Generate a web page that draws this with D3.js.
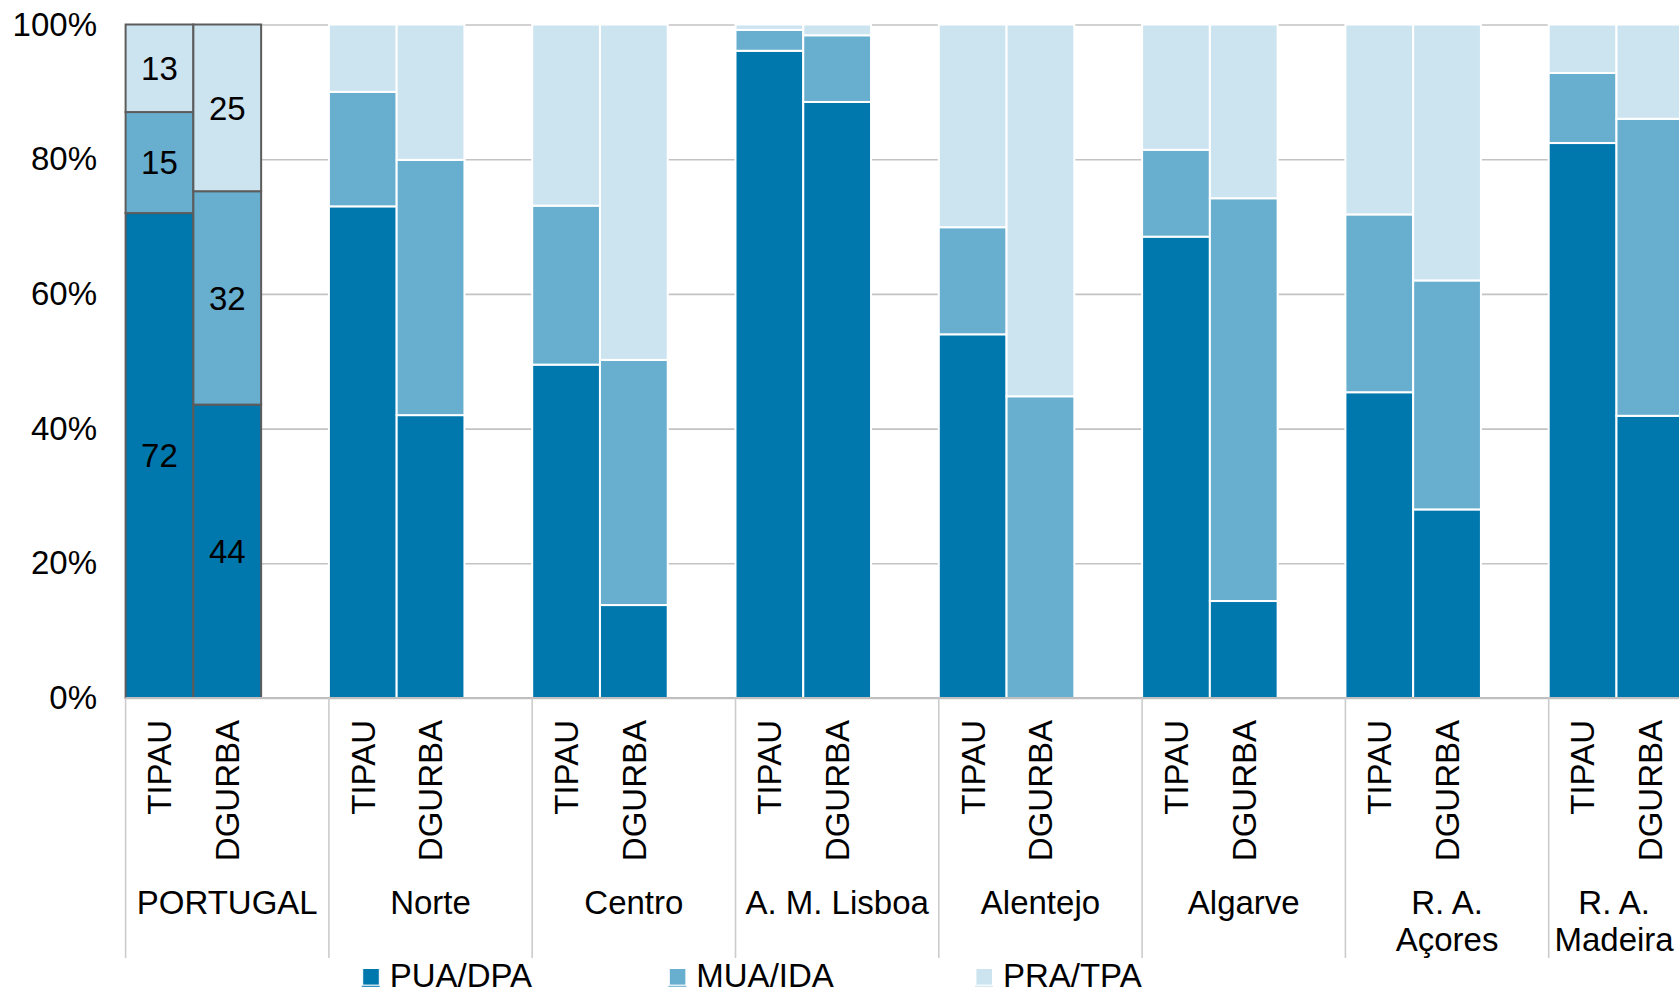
<!DOCTYPE html>
<html>
<head>
<meta charset="utf-8">
<script src="https://cdn.jsdelivr.net/npm/d3@7"></script>
<style>
  html, body { margin: 0; padding: 0; background: #ffffff; overflow: hidden; }
  svg { display: block; font-family: "Liberation Sans", Arial, sans-serif; }
</style>
</head>
<body>
<svg id="chart" width="1679" height="994"></svg>
<script>
// Regions (NUTS II) and the two urban classifications compared in each
const regions = ["PORTUGAL", "Norte", "Centro", "A. M. Lisboa", "Alentejo", "Algarve", "R. A. Açores", "R. A. Madeira"];
const classifications = ["TIPAU", "DGURBA"];
const seriesNames = ["PUA/DPA", "MUA/IDA", "PRA/TPA"];

// Share of population (%) by class — TIPAU
const tipauPUA = [72, 73, 49.5, 96.1, 54.0, 68.5, 45.4, 82.4];
const tipauMUA = [15, 17, 23.6, 3.1, 15.9, 12.9, 26.4, 10.4];
const tipauPRA = [13, 10, 26.9, 0.8, 30.1, 18.6, 28.2, 7.2];

// Share of population (%) by class — DGURBA
const dgurbaPUA = [44, 42, 13.8, 88.5, 0, 14.4, 28.0, 41.9];
const dgurbaMUA = [32, 37.9, 36.4, 9.9, 44.8, 59.8, 34.0, 44.1];
const dgurbaPRA = [25, 20.1, 49.8, 1.6, 55.2, 25.8, 38.0, 14.0];

// Axis ticks (percent)
const yTicks = [0, 20, 40, 60, 80, 100];

// Regions whose bars carry value labels and a dark outline
const labelledRegions = ["PORTUGAL"];

const colors = ["#0077ad", "#67aecf", "#cce4f0"];
const fontSize = 33;

const W = 1679, H = 994;
const margin = { left: 125.6, top: 24.5, bottom: 698 };
const groupWidth = 203.3;

const svg = d3.select("#chart");

// Build one row per bar
const rows = [];
regions.forEach((r, i) => {
  rows.push({ region: r, cls: "TIPAU", "PUA/DPA": tipauPUA[i], "MUA/IDA": tipauMUA[i], "PRA/TPA": tipauPRA[i] });
  rows.push({ region: r, cls: "DGURBA", "PUA/DPA": dgurbaPUA[i], "MUA/IDA": dgurbaMUA[i], "PRA/TPA": dgurbaPRA[i] });
});

// 100% stacking
const stacked = d3.stack().keys(seriesNames).offset(d3.stackOffsetExpand)(rows);

// Scales: each region gets three slots (two bars + one empty slot)
const x0 = d3.scaleBand()
  .domain(regions)
  .range([margin.left, margin.left + groupWidth * regions.length])
  .padding(0);
const x1 = d3.scaleBand()
  .domain([...classifications, "spacer"])
  .range([0, x0.bandwidth()])
  .padding(0);
const y = d3.scaleLinear().domain([0, 100]).range([margin.bottom, margin.top]);
const yFrac = d3.scaleLinear().domain([0, 1]).range([margin.bottom, margin.top]);

// Gridlines and percent labels
const yAxis = d3.axisLeft(y)
  .tickValues(yTicks)
  .tickFormat(d => d + "%")
  .tickSize(-(W - margin.left))
  .tickPadding(28.6);

const gy = svg.append("g")
  .attr("transform", `translate(${margin.left},0)`)
  .call(yAxis);
gy.select(".domain").remove();
gy.selectAll(".tick line").attr("stroke", "#c3c3c3").attr("stroke-width", 1.6);
gy.selectAll(".tick text")
  .attr("fill", "#000")
  .attr("font-size", fontSize)
  .attr("font-family", "'Liberation Sans', Arial, sans-serif");

// Stacked bars
const layers = svg.append("g").selectAll("g")
  .data(stacked)
  .join("g")
  .attr("fill", (d, i) => colors[i]);

layers.selectAll("rect")
  .data(d => d.map(s => ({ s, row: s.data })))
  .join("rect")
  .attr("x", d => x0(d.row.region) + x1(d.row.cls))
  .attr("width", x1.bandwidth())
  .attr("y", d => yFrac(d.s[1]))
  .attr("height", d => yFrac(d.s[0]) - yFrac(d.s[1]))
  .attr("stroke", d => labelledRegions.includes(d.row.region) ? "#5c5c5c" : "#ffffff")
  .attr("stroke-width", 2);

// Value labels inside the highlighted bars
const labelGroup = svg.append("g")
  .attr("font-size", fontSize)
  .attr("text-anchor", "middle")
  .attr("fill", "#000");
stacked.forEach(layer => {
  layer.forEach(s => {
    const row = s.data;
    if (!labelledRegions.includes(row.region)) return;
    const v = row[layer.key];
    labelGroup.append("text")
      .attr("x", x0(row.region) + x1(row.cls) + x1.bandwidth() / 2)
      .attr("y", (yFrac(s[0]) + yFrac(s[1])) / 2)
      .attr("dy", "0.36em")
      .text(d3.format("d")(v));
  });
});

// Category axis line
svg.append("line")
  .attr("x1", margin.left).attr("x2", W)
  .attr("y1", margin.bottom).attr("y2", margin.bottom)
  .attr("stroke", "#bfbfbf").attr("stroke-width", 2);

// Region separators
svg.append("g").selectAll("line")
  .data(regions)
  .join("line")
  .attr("x1", d => x0(d)).attr("x2", d => x0(d))
  .attr("y1", margin.bottom).attr("y2", 958)
  .attr("stroke", "#cccccc").attr("stroke-width", 1.6);

// Rotated classification labels
const clsLabels = svg.append("g")
  .attr("font-size", fontSize)
  .attr("fill", "#000");
regions.forEach(r => {
  classifications.forEach(c => {
    const cx = x0(r) + x1(c) + x1.bandwidth() / 2;
    clsLabels.append("text")
      .attr("transform", `translate(${cx},720) rotate(-90)`)
      .attr("text-anchor", "end")
      .attr("dy", "0.36em")
      .text(c);
  });
});

// Region labels (the autonomous regions break after "R. A.")
const regionLabels = svg.append("g")
  .attr("font-size", fontSize)
  .attr("fill", "#000")
  .attr("text-anchor", "middle");
regions.forEach(r => {
  const m = r.match(/^(R\. A\.) (.+)$/);
  const lines = m ? [m[1], m[2]] : [r];
  const t = regionLabels.append("text");
  lines.forEach((ln, i) => {
    t.append("tspan").attr("x", 0).attr("y", 914 + i * 36.5).text(ln);
  });
  // keep labels inside the drawing area
  const w = t.node().getBBox().width;
  const cx = Math.min(x0(r) + x0.bandwidth() / 2, W - w / 2 - 5);
  t.selectAll("tspan").attr("x", cx);
});

// Legend
const legend = svg.append("g");
const legendX = 362.7, legendStep = 306.6;
seriesNames.forEach((name, i) => {
  const gx = legendX + i * legendStep;
  legend.append("rect")
    .attr("x", gx).attr("y", 968.5)
    .attr("width", 16.6).attr("height", 16.6)
    .attr("fill", colors[i])
    .attr("stroke", "#ffffff").attr("stroke-width", 1);
  legend.append("line")
    .attr("x1", gx - 1).attr("x2", gx + 17)
    .attr("y1", 986.3).attr("y2", 986.3)
    .attr("stroke", colors[i]).attr("stroke-width", 1);
  legend.append("text")
    .attr("x", gx + 27)
    .attr("y", 987)
    .attr("font-size", fontSize)
    .attr("fill", "#000")
    .text(name);
});
</script>
</body>
</html>
